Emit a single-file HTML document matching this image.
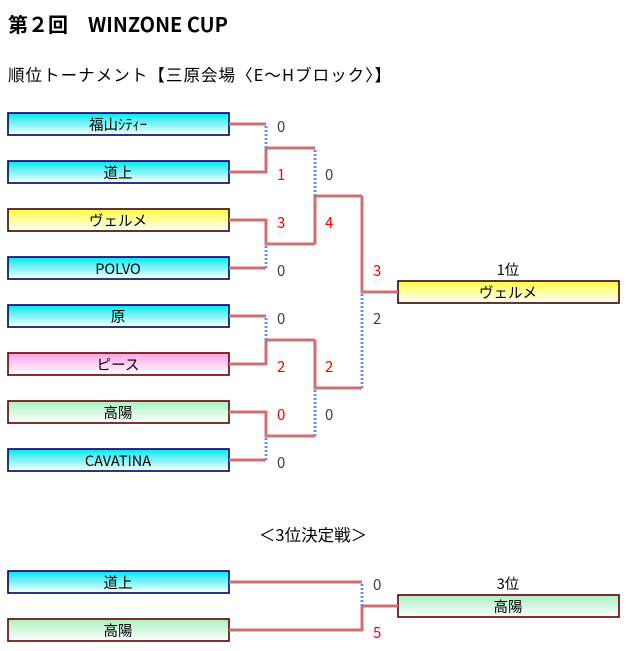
<!DOCTYPE html>
<html><head><meta charset="utf-8"><style>
html,body{margin:0;padding:0;background:#fff;}
svg{display:block;}
text{font-family:"Noto Sans CJK JP",sans-serif;}
</style></head><body>
<svg width="632" height="651" viewBox="0 0 632 651" xmlns="http://www.w3.org/2000/svg">
<defs>
<linearGradient id="cy" x1="0" y1="0" x2="0" y2="1"><stop offset="0" stop-color="#00e8f0"/><stop offset="1" stop-color="#ffffff"/></linearGradient>
<linearGradient id="ye" x1="0" y1="0" x2="0" y2="1"><stop offset="0" stop-color="#ffff40"/><stop offset="1" stop-color="#ffffff"/></linearGradient>
<linearGradient id="pk" x1="0" y1="0" x2="0" y2="1"><stop offset="0" stop-color="#ffa0e8"/><stop offset="1" stop-color="#ffffff"/></linearGradient>
<linearGradient id="gr" x1="0" y1="0" x2="0" y2="1"><stop offset="0" stop-color="#a8f0c0"/><stop offset="1" stop-color="#ffffff"/></linearGradient>
</defs>
<text x="8" y="32" font-size="20" font-weight="bold" fill="#000">第２回　WINZONE CUP</text>
<text x="8" y="81" font-size="16.5" fill="#000" textLength="383">順位トーナメント【三原会場〈E〜Hブロック〉】</text>

<g stroke-width="1.6">
<rect x="8" y="113" width="221" height="22" fill="url(#cy)" stroke="#000060"/>
<rect x="8" y="161" width="221" height="22" fill="url(#cy)" stroke="#000060"/>
<rect x="8" y="209" width="221" height="22" fill="url(#ye)" stroke="#400000"/>
<rect x="8" y="257" width="221" height="22" fill="url(#cy)" stroke="#000060"/>
<rect x="8" y="305" width="221" height="22" fill="url(#cy)" stroke="#000060"/>
<rect x="8" y="353" width="221" height="22" fill="url(#pk)" stroke="#600000"/>
<rect x="8" y="401" width="221" height="22" fill="url(#gr)" stroke="#600000"/>
<rect x="8" y="449" width="221" height="22" fill="url(#cy)" stroke="#000060"/>
<rect x="398" y="281" width="221" height="22" fill="url(#ye)" stroke="#400000"/>
<rect x="8" y="571" width="221" height="22" fill="url(#cy)" stroke="#000060"/>
<rect x="8" y="619" width="221" height="22" fill="url(#gr)" stroke="#600000"/>
<rect x="398" y="595" width="221" height="22" fill="url(#gr)" stroke="#600000"/>
</g>
<g font-size="14.5" fill="#000" text-anchor="middle">
<text x="118" y="130">福山ｼﾃｨｰ</text>
<text x="118" y="178">道上</text>
<text x="118" y="226">ヴェルメ</text>
<text x="118" y="274">POLVO</text>
<text x="118" y="322">原</text>
<text x="118" y="370">ピース</text>
<text x="118" y="418">高陽</text>
<text x="118" y="466">CAVATINA</text>
<text x="508" y="298">ヴェルメ</text>
<text x="508" y="275">1位</text>
<text x="118" y="588">道上</text>
<text x="118" y="636">高陽</text>
<text x="508" y="612">高陽</text>
<text x="508" y="589">3位</text>
<text x="313" y="541" font-size="16.5">＜3位決定戦＞</text>
</g>

<g fill="none" stroke="#d07070" stroke-width="3">
<path d="M229 124H266"/>
<path d="M229 172H266V148H315"/>
<path d="M229 220H266V244H315"/>
<path d="M229 268H266"/>
<path d="M229 316H266"/>
<path d="M229 364H266V340H315"/>
<path d="M229 412H266V436H315"/>
<path d="M229 460H266"/>
<path d="M315 244V196H362"/>
<path d="M315 340V388H362"/>
<path d="M362 196V292H398"/>
<path d="M229 582H362"/>
<path d="M229 630H362V606H398"/>
</g>
<g fill="none" stroke="#6090ff" stroke-width="3" stroke-dasharray="2 2">
<path d="M266 126V148"/>
<path d="M266 246V268"/>
<path d="M266 318V340"/>
<path d="M266 438V460"/>
<path d="M315 150V196"/>
<path d="M315 390V436"/>
<path d="M362 294V388"/>
<path d="M362 584V606"/>
</g>
<g font-size="15">
<text x="277" y="132" fill="#404040">0</text>
<text x="277" y="180" fill="#ff0000">1</text>
<text x="277" y="228" fill="#ff0000">3</text>
<text x="277" y="276" fill="#404040">0</text>
<text x="277" y="324" fill="#404040">0</text>
<text x="277" y="372" fill="#ff0000">2</text>
<text x="277" y="420" fill="#ff0000">0</text>
<text x="277" y="468" fill="#404040">0</text>
<text x="325" y="180" fill="#404040">0</text>
<text x="325" y="228" fill="#ff0000">4</text>
<text x="325" y="372" fill="#ff0000">2</text>
<text x="325" y="420" fill="#404040">0</text>
<text x="373" y="276" fill="#ff0000">3</text>
<text x="373" y="324" fill="#404040">2</text>
<text x="373" y="590" fill="#404040">0</text>
<text x="373" y="638" fill="#ff0000">5</text>
</g>
</svg>
</body></html>
